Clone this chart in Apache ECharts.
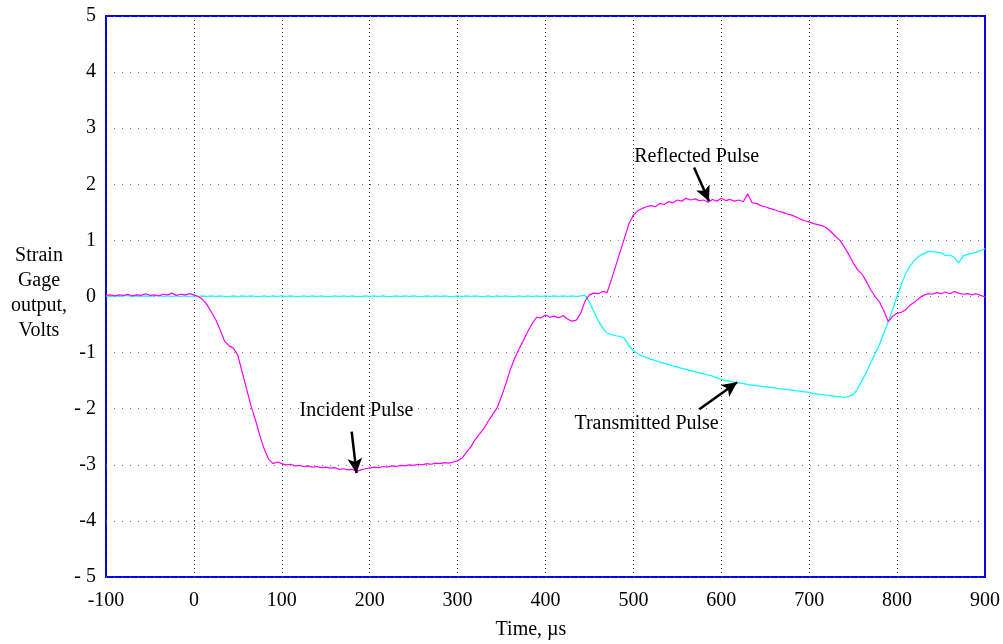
<!DOCTYPE html>
<html>
<head>
<meta charset="utf-8">
<script src="https://cdn.jsdelivr.net/npm/echarts@6/dist/echarts.min.js"></script>
<style>
  html, body { margin: 0; padding: 0; background: #fff; }
  #chart { width: 1003px; height: 644px; }
</style>
</head>
<body>
<div id="chart"></div>
<script>
// sample times, µs
const times = [
  -100, -95, -90, -85, -80, -75, -70, -65, -60, -55, -50, -45, -40, -35, -30, -25, -20, -15, -10, -5, 0,
  5, 10, 15, 20, 25, 30, 35, 40, 45, 50, 55, 60, 65, 70, 75, 80, 85, 90, 95, 100,
  105, 110, 115, 120, 125, 130, 135, 140, 145, 150, 155, 160, 165, 170, 175, 180, 185, 190, 195, 200,
  205, 210, 215, 220, 225, 230, 235, 240, 245, 250, 255, 260, 265, 270, 275, 280, 285, 290, 295, 300,
  305, 310, 315, 320, 325, 330, 335, 340, 345, 350, 355, 360, 365, 370, 375, 380, 385, 390, 395, 400,
  405, 410, 415, 420, 425, 430, 435, 440, 445, 450, 455, 460, 465, 470, 475, 480, 485, 490, 495, 500,
  505, 510, 515, 520, 525, 530, 535, 540, 545, 550, 555, 560, 565, 570, 575, 580, 585, 590, 595, 600,
  605, 610, 615, 620, 625, 630, 635, 640, 645, 650, 655, 660, 665, 670, 675, 680, 685, 690, 695, 700,
  705, 710, 715, 720, 725, 730, 735, 740, 745, 750, 755, 760, 765, 770, 775, 780, 785, 790, 795, 800,
  805, 810, 815, 820, 825, 830, 835, 840, 845, 850, 855, 860, 865, 870, 875, 880, 885, 890, 895, 900
]

// incident + reflected pulse gage (magenta), volts
const incidentGage = [
  0.02, 0.03, 0.01, 0.03, 0.02, 0.04, 0.01, 0.03, 0.02, 0.05, 0.02, 0.03, 0.01, 0.04, 0.03, 0.06, 0.02, 0.04, 0.03, 0.05, 0.03,
  0.0, -0.05, -0.15, -0.28, -0.42, -0.6, -0.8, -0.88, -0.92, -1.05, -1.35, -1.65, -1.95, -2.2, -2.48, -2.72, -2.9, -2.98, -2.95, -2.98,
  -3.0, -2.99, -3.02, -3.01, -3.03, -3.02, -3.04, -3.03, -3.05, -3.04, -3.06, -3.05, -3.08, -3.07, -3.09, -3.08, -3.12, -3.09, -3.07, -3.06,
  -3.04, -3.05, -3.03, -3.04, -3.02, -3.03, -3.01, -3.02, -3.0, -3.01, -2.99, -3.0, -2.98, -2.99, -2.97, -2.98, -2.96, -2.97, -2.95, -2.93,
  -2.88, -2.78, -2.68, -2.55, -2.45, -2.35, -2.22, -2.1, -1.98, -1.78, -1.55, -1.3, -1.1, -0.93, -0.78, -0.62, -0.48, -0.37, -0.38, -0.33,
  -0.37, -0.35, -0.38, -0.34, -0.4, -0.44, -0.42, -0.3, -0.08, 0.03, 0.06, 0.05, 0.09, 0.07, 0.3, 0.55, 0.8, 1.05, 1.3, 1.45,
  1.53, 1.57, 1.6, 1.62, 1.6, 1.66, 1.64, 1.69, 1.67, 1.72, 1.7, 1.75, 1.72, 1.74, 1.71, 1.72, 1.68, 1.73, 1.7, 1.75,
  1.71, 1.73, 1.7, 1.72, 1.69, 1.83, 1.67, 1.66, 1.62, 1.6, 1.57, 1.55, 1.52, 1.5, 1.47, 1.45, 1.42, 1.38, 1.35, 1.33,
  1.3, 1.28, 1.26, 1.22, 1.15, 1.07, 1.0, 0.88, 0.75, 0.6, 0.48, 0.4, 0.27, 0.12, 0.0, -0.1, -0.26, -0.45, -0.35, -0.3,
  -0.28, -0.23, -0.15, -0.1, -0.03, 0.02, 0.05, 0.04, 0.07, 0.05, 0.08, 0.05, 0.09, 0.06, 0.04, 0.05, 0.03, 0.05, 0.02, -0.01
]

// transmitted pulse gage (cyan), volts
const transmittedGage = [
  0.01, 0.0, 0.01, 0.0, 0.01, 0.02, 0.0, 0.01, 0.0, 0.01, 0.0, 0.01, 0.02, 0.0, 0.01, 0.0, 0.01, 0.0, 0.01, 0.0, 0.01,
  0.0, 0.01, 0.0, 0.01, 0.0, 0.01, 0.0, 0.0, 0.01, 0.0, 0.01, 0.0, 0.01, 0.0, 0.0, 0.01, 0.0, 0.01, 0.0, 0.01,
  0.0, 0.01, 0.0, 0.0, 0.01, 0.0, 0.01, 0.0, 0.01, 0.0, 0.0, 0.01, 0.0, 0.01, 0.0, 0.01, 0.0, 0.0, 0.01, 0.0,
  0.01, 0.0, 0.01, 0.0, 0.0, 0.01, 0.0, 0.01, 0.0, 0.01, 0.0, 0.0, 0.01, 0.0, 0.01, 0.0, 0.01, 0.0, 0.0, 0.01,
  0.0, 0.01, 0.0, 0.01, 0.0, 0.0, 0.01, 0.0, 0.01, 0.0, 0.01, 0.0, 0.0, 0.01, 0.0, 0.01, 0.0, 0.01, 0.0, 0.01,
  0.0, 0.01, 0.0, 0.01, 0.0, 0.01, 0.0, 0.01, 0.02, -0.1, -0.27, -0.43, -0.56, -0.65, -0.68, -0.7, -0.71, -0.75, -0.88, -0.97,
  -1.02, -1.06, -1.09, -1.12, -1.14, -1.17, -1.19, -1.21, -1.24, -1.26, -1.28, -1.3, -1.32, -1.34, -1.36, -1.38, -1.4, -1.42, -1.45, -1.48,
  -1.5, -1.51, -1.53, -1.54, -1.55, -1.57, -1.58, -1.59, -1.6, -1.61, -1.62, -1.63, -1.64, -1.65, -1.66, -1.67, -1.68, -1.69, -1.7, -1.71,
  -1.73, -1.74, -1.75, -1.76, -1.77, -1.78, -1.79, -1.8, -1.78, -1.75, -1.65, -1.5, -1.35, -1.18, -1.02, -0.85, -0.65, -0.45, -0.22, 0.0,
  0.22, 0.42, 0.55, 0.65, 0.72, 0.76, 0.8, 0.8, 0.79, 0.78, 0.73, 0.74, 0.7, 0.6, 0.72, 0.75, 0.77, 0.79, 0.82, 0.85
]

const yTickLabels = { '5': '5', '4': '4', '3': '3', '2': '2', '1': '1', '0': '0', '-1': '-1', '-2': '- 2', '-3': '-3', '-4': '-4', '-5': '- 5' }

// annotations: [label, label pos, arrow tail, arrow head]
const notes = [
  ['Incident Pulse', [185, -2.03], [179.5, -2.41], [185, -3.15]],
  ['Reflected Pulse', [572, 2.5], [569, 2.3], [586, 1.7]],
  ['Transmitted Pulse', [515, -2.26], [575, -2.01], [618, -1.53]]
]

const font = 'Liberation Serif'
const chart = echarts.init(document.getElementById('chart'))

const pairs = vals => times.map((t, i) => [t, vals[i]])

const option = {
  animation: false,
  backgroundColor: '#fff',
  textStyle: { fontFamily: font },
  grid: {
    left: 106, right: 17, top: 16, bottom: 67,
    show: true, borderColor: '#0000ff', borderWidth: 2, backgroundColor: 'transparent'
  },
  xAxis: {
    type: 'value', min: -100, max: 900, interval: 100,
    axisLine: { show: false },
    axisTick: { show: false },
    axisLabel: { color: '#000', fontSize: 20, fontFamily: font, margin: 14 },
    splitLine: { show: true, lineStyle: { color: '#333', type: [1, 3], width: 1 } }
  },
  yAxis: {
    type: 'value', min: -5, max: 5, interval: 1,
    axisLine: { show: false },
    axisTick: { show: false },
    axisLabel: {
      color: '#000', fontSize: 20, fontFamily: font, margin: 10,
      formatter: v => yTickLabels[String(v)]
    },
    splitLine: { show: true, lineStyle: { color: '#777', type: [1, 7], width: 1 } }
  },
  graphic: [
    {
      type: 'text', x: 39, y: 243,
      style: {
        text: 'Strain\nGage\noutput,\nVolts', fill: '#000', font: '20px ' + font,
        align: 'center', lineHeight: 25
      }
    },
    {
      type: 'text', x: 531, y: 620,
      style: { text: 'Time, µs', fill: '#000', font: '20px ' + font, align: 'center' }
    }
  ],
  series: [
    {
      name: 'Transmitted',
      type: 'line',
      data: pairs(transmittedGage),
      showSymbol: false,
      lineStyle: { color: '#00ffff', width: 1.2 },
      z: 2
    },
    {
      name: 'Incident',
      type: 'line',
      data: pairs(incidentGage),
      showSymbol: false,
      lineStyle: { color: '#ff00ff', width: 1.2 },
      z: 3,
      markLine: {
        silent: true,
        symbol: ['none', 'arrow'],
        symbolSize: [11, 15],
        label: { show: false },
        lineStyle: { color: '#000', width: 2.5, type: 'solid' },
        data: notes.map(n => [{ coord: n[2] }, { coord: n[3] }])
      },
      markPoint: {
        silent: true,
        symbol: 'circle',
        symbolSize: 0,
        label: {
          show: true, position: 'inside', color: '#000', fontSize: 20, fontFamily: font,
          formatter: p => p.name
        },
        data: notes.map(n => ({ name: n[0], coord: n[1] }))
      }
    }
  ]
}

chart.setOption(option)
</script>
</body>
</html>
